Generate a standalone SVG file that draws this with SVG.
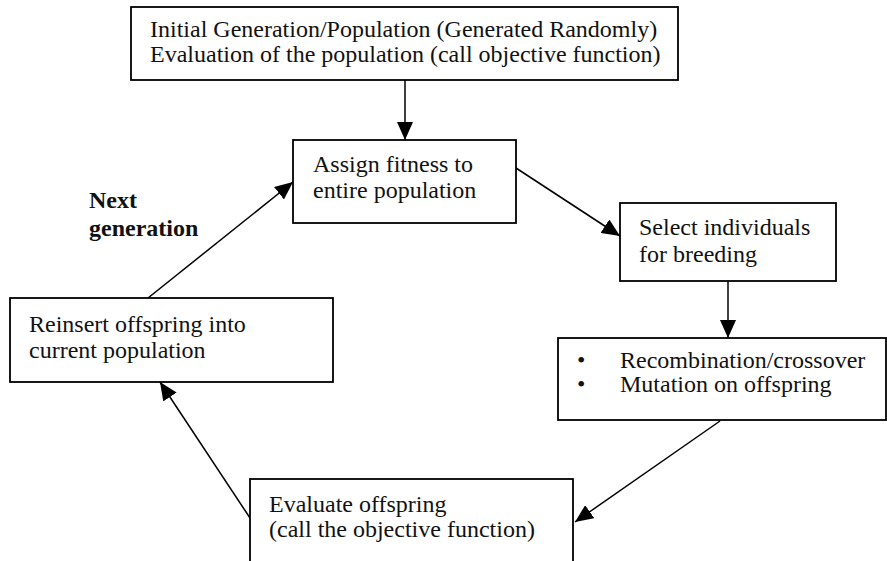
<svg xmlns="http://www.w3.org/2000/svg" width="887" height="561" viewBox="0 0 887 561">
<defs>
<style>
.box{fill:#fff;stroke:#000;stroke-width:1.8}
text{font-family:'Liberation Serif','Times New Roman',Times,serif;font-size:24px;fill:#111}
.b{font-weight:bold}
.c{fill:none;stroke:#000;stroke-width:1.5}
</style>
<marker id="ah" markerUnits="userSpaceOnUse" markerWidth="18" markerHeight="16" refX="18" refY="8" orient="auto">
<path d="M0,0 L18,8 L0,16 Z" fill="#000"/>
</marker>
</defs>
<rect width="887" height="561" fill="#fff"/>
<g id="connectors">
<path class="c" d="M405,80 L405,140" marker-end="url(#ah)"/>
<path class="c" d="M516,168 L620,236" marker-end="url(#ah)"/>
<path class="c" d="M728,281 L728,338" marker-end="url(#ah)"/>
<path class="c" d="M720,421 L575,522" marker-end="url(#ah)"/>
<path class="c" d="M250,518 L160,382" marker-end="url(#ah)"/>
<path class="c" d="M148,298 L293,182" marker-end="url(#ah)"/>
</g>
<g id="init" font-family="Liberation Serif, serif">
<rect class="box" x="131" y="7" width="547" height="73"/>
<text x="150" y="37">Initial Generation/Population (Generated Randomly)</text>
<text x="150" y="62">Evaluation of the population (call objective function)</text>
</g>
<g id="assign">
<rect class="box" x="293" y="140" width="223" height="83"/>
<text x="313" y="172">Assign fitness to</text>
<text x="313" y="198">entire population</text>
</g>
<g id="select">
<rect class="box" x="620" y="203" width="216" height="78"/>
<text x="639" y="235">Select individuals</text>
<text x="639" y="262">for breeding</text>
</g>
<g id="recomb">
<rect class="box" x="558" y="338" width="328" height="82"/>
<text x="577" y="368">•</text>
<text x="620" y="368">Recombination/crossover</text>
<text x="577" y="392">•</text>
<text x="620" y="392">Mutation on offspring</text>
</g>
<g id="evaluate">
<rect class="box" x="250" y="479" width="323" height="100"/>
<text x="269" y="512">Evaluate offspring</text>
<text x="269" y="537">(call the objective function)</text>
</g>
<g id="reinsert">
<rect class="box" x="10" y="298" width="323" height="84"/>
<text x="29" y="332">Reinsert offspring into</text>
<text x="29" y="358">current population</text>
</g>
<g id="label-next">
<text class="b" x="89" y="208">Next</text>
<text class="b" x="89" y="236">generation</text>
</g>
</svg>
